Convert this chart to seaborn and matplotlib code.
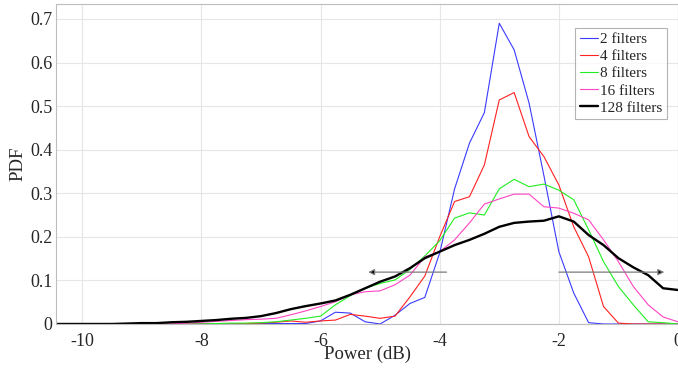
import numpy as np
import pandas as pd
import matplotlib
matplotlib.use("Agg")
import matplotlib.pyplot as plt
import seaborn as sns

power_db = [-10.5 + 0.25 * i for i in range(43)]

# values at -10.5, -10.25 | -10 ... -9.25 | -9 ... | ... | 0
filters_2 = [0, 0,
             0, 0, 0, 0,
             0, 0, 0, 0,
             0, 0, 0, 0,
             0.001, 0.001, 0.001, 0.001,
             0.007, 0.027, 0.025, 0.005,
             0.0, 0.02, 0.047, 0.061,
             0.163, 0.31, 0.415, 0.485,
             0.69, 0.629, 0.507, 0.34,
             0.166, 0.071, 0.003, 0,
             0, 0, 0, 0,
             0]
filters_4 = [0, 0,
             0, 0, 0, 0,
             0, 0, 0, 0,
             0, 0, 0, 0.001,
             0.002, 0.004, 0.007, 0.004,
             0.007, 0.009, 0.022, 0.018,
             0.013, 0.018, 0.062, 0.11,
             0.2, 0.281, 0.292, 0.365,
             0.514, 0.531, 0.43, 0.384,
             0.319, 0.223, 0.154, 0.04,
             0.002, 0, 0, 0,
             0]
filters_8 = [0, 0,
             0, 0, 0, 0,
             0, 0, 0, 0,
             0, 0.001, 0.002, 0.002,
             0.003, 0.005, 0.009, 0.013,
             0.018, 0.044, 0.065, 0.082,
             0.093, 0.101, 0.125, 0.156,
             0.191, 0.243, 0.255, 0.25,
             0.31, 0.332, 0.315, 0.321,
             0.307, 0.285, 0.216, 0.143,
             0.086, 0.044, 0.005, 0.003,
             0]
filters_16 = [0, 0,
              0, 0, 0, 0,
              0, 0, 0, 0.002,
              0.004, 0.006, 0.008, 0.01,
              0.011, 0.013, 0.021, 0.03,
              0.04, 0.051, 0.067, 0.074,
              0.076, 0.09, 0.112, 0.154,
              0.166, 0.193, 0.232, 0.275,
              0.287, 0.298, 0.298, 0.269,
              0.266, 0.254, 0.239, 0.193,
              0.143, 0.086, 0.044, 0.016,
              0.005]
filters_128 = [0, 0,
               0, 0, 0, 0.001,
               0.002, 0.002, 0.004, 0.005,
               0.007, 0.009, 0.012, 0.014,
               0.018, 0.025, 0.034, 0.041,
               0.047, 0.054, 0.067, 0.082,
               0.097, 0.109, 0.128, 0.151,
               0.166, 0.181, 0.193, 0.207,
               0.223, 0.232, 0.235, 0.237,
               0.247, 0.235, 0.204, 0.181,
               0.151, 0.13, 0.112, 0.082,
               0.078]

series_labels = ["2 filters", "4 filters", "8 filters", "16 filters", "128 filters"]
series_values = [filters_2, filters_4, filters_8, filters_16, filters_128]
series_colors = ["#3a3aff", "#ff2020", "#20ee20", "#ff44c4", "#000000"]
series_widths = [0.8, 0.8, 0.8, 0.8, 1.7]

x_ticks = [-10, -8, -6, -4, -2, 0]
y_ticks = [0, 0.1, 0.2, 0.3, 0.4, 0.5, 0.6, 0.7]

sns.set_style("white")
plt.rcParams["font.family"] = ["Liberation Serif", "DejaVu Serif"]
plt.rcParams["axes.unicode_minus"] = False

fig = plt.figure(figsize=(6.78, 3.73), dpi=100)
ax = fig.add_axes([0.0826, 0.1314, 0.9174, 0.8576])

for lab, vals, col, lw in zip(series_labels, series_values, series_colors, series_widths):
    assert len(vals) == len(power_db)
    df = pd.DataFrame({"Power": power_db, "PDF": vals})
    sns.lineplot(data=df, x="Power", y="PDF", ax=ax, color=col, linewidth=lw,
                 label=lab)

ax.set_xlim(-10.44, 0)
ax.set_ylim(0, 0.734)
ax.set_xticks(x_ticks)
ax.set_xticklabels([str(t) for t in x_ticks])
ax.set_yticks(y_ticks)
ax.set_yticklabels(["0"] + [f"{t:.1f}" for t in y_ticks[1:]])
ax.grid(True, color="#e6e6e6", linewidth=0.8)
ax.set_axisbelow(True)
for s in ax.spines.values():
    s.set_color("#bdbdbd")
    s.set_linewidth(0.8)
ax.tick_params(direction="in", length=3, color="#bdbdbd", labelsize=13,
               labelcolor="#262626")
ax.tick_params(axis="x", pad=6.5)
ax.tick_params(axis="y", pad=2.5)
ax.set_xlabel("Power (dB)", fontsize=13.5, color="#262626", labelpad=-3)
ax.set_ylabel("PDF", fontsize=13.5, color="#262626", labelpad=3)

arrow_props = dict(arrowstyle="-|>", edgecolor="#7a7a7a", facecolor="black",
                   lw=0.9, mutation_scale=9, shrinkA=0, shrinkB=0)
ax.annotate("", xy=(-5.2, 0.119), xytext=(-3.886, 0.119), arrowprops=arrow_props)
ax.annotate("", xy=(-0.23, 0.119), xytext=(-2.0, 0.119), arrowprops=arrow_props)

leg = ax.legend(loc="upper right", bbox_to_anchor=(0.982, 0.925), fontsize=11,
                frameon=True, fancybox=False, handlelength=1.2, handletextpad=0.12,
                borderpad=0.3, labelspacing=0.22, borderaxespad=0)
leg.get_frame().set_edgecolor("#a0a0a0")
leg.get_frame().set_linewidth(0.8)

fig.savefig("out.png", dpi=100)
